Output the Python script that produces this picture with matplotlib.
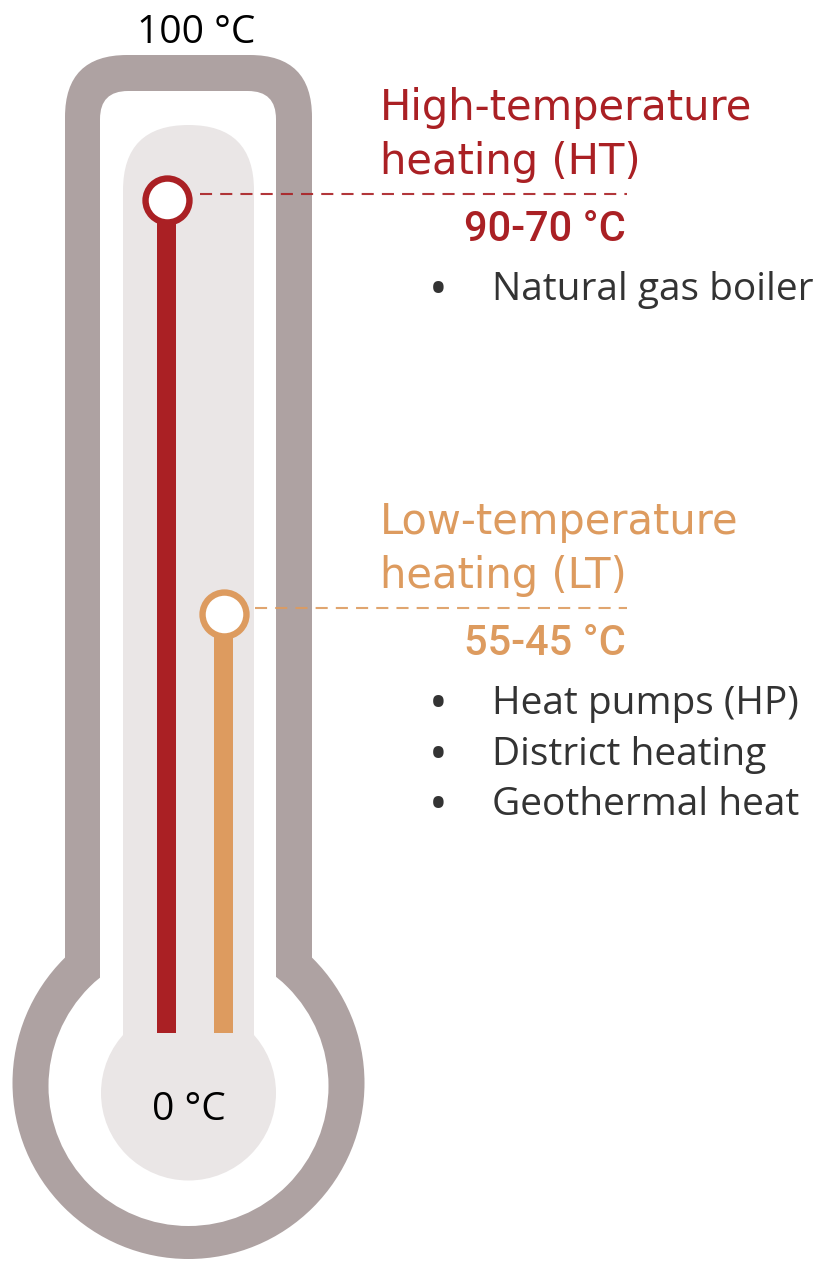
import matplotlib
matplotlib.use("Agg")
import matplotlib.pyplot as plt
from matplotlib.patches import FancyBboxPatch, Circle
from matplotlib.transforms import ScaledTranslation

# ---------------- data ----------------
categories = ["HT", "LT"]
headings = [["High-temperature", "heating (HT)"], ["Low-temperature", "heating (LT)"]]
levels = [90, 55]                       # marker temperature (°C)
ranges = ["90-70 °C", "55-45 °C"]
bullets = [["Natural gas boiler"], ["Heat pumps (HP)", "District heating", "Geothermal heat"]]
scale_labels = ["100 °C", "0 °C"]

# ---------------- style ----------------
colors = ["#AA2024", "#DD9B5F"]
wall = "#AEA2A2"
light = "#EAE6E6"
textc = "#333333"

W, H = 823, 1262
fig = plt.figure(figsize=(W / 100, H / 100), dpi=100)
ax = fig.add_axes([0, 0, 1, 1])
ax.set_xlim(0, W)
ax.set_ylim(H, 0)
ax.axis("off")

# thermometer body (pixel units)
cx = 188.5
ax.add_patch(FancyBboxPatch((65, 55), 247, 1045, boxstyle="round,pad=0,rounding_size=62",
                            fc=wall, ec="none"))
ax.add_patch(Circle((cx, 1083), 176, fc=wall, ec="none"))
ax.add_patch(FancyBboxPatch((100, 91), 176, 1009, boxstyle="round,pad=0,rounding_size=28",
                            fc="white", ec="none"))
ax.add_patch(Circle((cx, 1086), 140, fc="white", ec="none"))
ax.add_patch(FancyBboxPatch((123, 125), 131, 1025, boxstyle="round,pad=0,rounding_size=65.5",
                            fc=light, ec="none"))
ax.add_patch(Circle((cx, 1093), 87.5, fc=light, ec="none"))

ax.text(196, 43, scale_labels[0], ha="center", va="baseline", fontsize=28,
        family=["Open Sans", "DejaVu Sans"], color="black")
ax.text(cx, 1120, scale_labels[1], ha="center", va="baseline", fontsize=28,
        family=["Open Sans", "DejaVu Sans"], color="black")

# temperature axes overlay
axT = fig.add_axes([0, 0, 1, 1], facecolor="none")
axT.set_xlim(0, W)
axT.set_ylim(0.23, 106.9)
axT.axis("off")

bar_x = [167, 224]
bar_bottom = 19.6
axT.bar(bar_x, [l - bar_bottom for l in levels], bottom=bar_bottom, width=19,
        color=colors, zorder=2)
for x, l, c in zip(bar_x, levels, colors):
    axT.scatter([x], [l], s=1000, marker="o", facecolor="white", edgecolor=c,
                linewidths=4.6, zorder=3)

dash_trans = axT.transData + ScaledTranslation(0, 6 / 100, fig.dpi_scale_trans)
dash_start = [200, 255]
for x0, l, c in zip(dash_start, levels, colors):
    axT.plot([x0, 627], [l, l], color=c, lw=1.5, dashes=(5.8, 3.9), transform=dash_trans,
             zorder=1, alpha=0.9)

for i, l in enumerate(levels):
    c = colors[i]
    for j, line in enumerate(headings[i]):
        axT.annotate(line, (380, l), xytext=(0, 80 - 54 * j), textcoords="offset pixels",
                     ha="left", va="baseline", fontsize=30, color=c,
                     family=["DejaVu Sans"])
    axT.annotate(ranges[i], (626, l), xytext=(0, -41), textcoords="offset pixels",
                 ha="right", va="baseline", fontsize=30, color=c, fontweight="medium",
                 family=["Roboto", "DejaVu Sans"])
    for k, b in enumerate(bullets[i]):
        axT.annotate("•", (438, l), xytext=(0, -105 - 50.5 * k), textcoords="offset pixels",
                     ha="center", va="baseline", fontsize=36, color=textc,
                     family=["Open Sans", "DejaVu Sans"])
        axT.annotate(b, (492, l), xytext=(0, -100 - 50.5 * k), textcoords="offset pixels",
                     ha="left", va="baseline", fontsize=28, color=textc,
                     family=["Open Sans", "DejaVu Sans"])

fig.savefig("out.png", dpi=100)
